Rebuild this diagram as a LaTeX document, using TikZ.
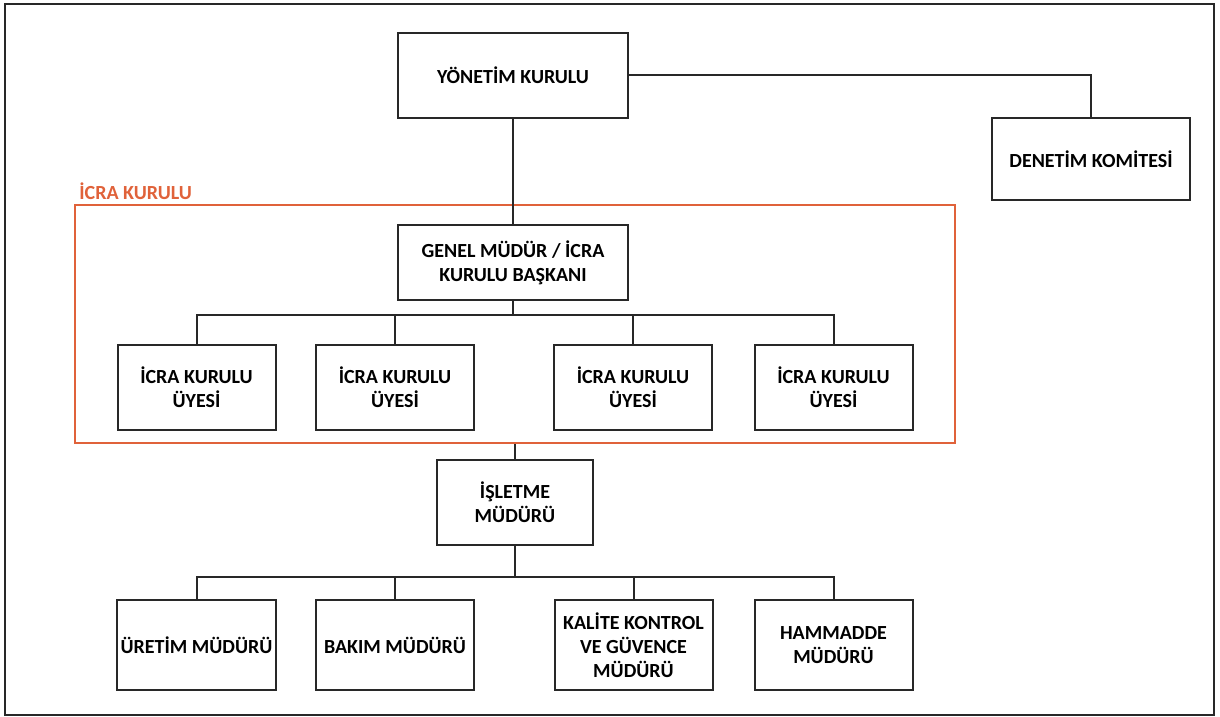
\documentclass[tikz,border=0pt]{standalone}
\usepackage{fontspec}
\setmainfont{Carlito}
\usepackage{xcolor}
\definecolor{icraorange}{RGB}{224,98,58}
\definecolor{linegray}{RGB}{40,40,40}

\tikzset{
    unitbox/.style={draw=linegray, line width=1pt, align=center,
        font=\fontsize{10}{12}\selectfont\bfseries, inner sep=2pt},
    memberbox/.style={unitbox, minimum width=79pt, minimum height=42.5pt},
    mgrbox/.style={unitbox, minimum width=79pt, minimum height=45pt},
    link/.style={draw=linegray, line width=1pt}
}

\begin{document}
\begin{tikzpicture}[x=0.5pt, y=-0.5pt]
    \useasboundingbox (0,0) rectangle (1220,717);
    \draw[linegray, line width=1.2pt] (5,4) rectangle (1214,715);

    % board and audit committee
    \node[unitbox, minimum width=115pt, minimum height=42.5pt] (yk) at (513,75.5) {YÖNETİM KURULU};
    \node[unitbox, minimum width=99pt, minimum height=41pt] (dk) at (1091,159) {DENETİM KOMİTESİ};

    % executive board frame
    \node[draw=icraorange, line width=1pt, minimum width=440pt, minimum height=119pt] (icra) at (515,324) {};
    \node[anchor=south west, text=icraorange, inner sep=1pt,
        font=\fontsize{10}{12}\selectfont\bfseries] (icralbl) at ([xshift=1.5pt,yshift=1pt]icra.north west) {İCRA KURULU};

    \node[unitbox, minimum width=115pt, minimum height=37.5pt] (gm) at (513,262.5) {GENEL MÜDÜR / İCRA\\KURULU BAŞKANI};
    \node[memberbox] (uye1) at (196.5,387.5) {İCRA KURULU\\ÜYESİ};
    \node[memberbox] (uye2) at (395,387.5) {İCRA KURULU\\ÜYESİ};
    \node[memberbox] (uye3) at (633,387.5) {İCRA KURULU\\ÜYESİ};
    \node[memberbox] (uye4) at (833.5,387.5) {İCRA KURULU\\ÜYESİ};

    % operations
    \node[unitbox, minimum width=78pt, minimum height=42.5pt] (isl) at (515,502.5) {İŞLETME\\MÜDÜRÜ};
    \node[mgrbox] (uretim) at (196.5,645) {ÜRETİM MÜDÜRÜ};
    \node[mgrbox] (bakim) at (395,645) {BAKIM MÜDÜRÜ};
    \node[mgrbox] (kalite) at (633.5,645) {KALİTE KONTROL\\VE GÜVENCE\\MÜDÜRÜ};
    \node[mgrbox] (hammadde) at (833.5,645) {HAMMADDE\\MÜDÜRÜ};

    \coordinate (busA) at (513,315);
    \coordinate (busB) at (515,577);

    \draw[link] (yk) -- (gm);
    \draw[link] (yk.east) -| (dk.north);
    \draw[link] (gm) -- (busA);
    \foreach \m in {uye1,uye2,uye3,uye4}
        \draw[link] (busA) -| (\m.north);
    \draw[link] (icra.south) -- (isl.north);
    \draw[link] (isl) -- (busB);
    \foreach \m in {uretim,bakim,kalite,hammadde}
        \draw[link] (busB) -| (\m.north);
\end{tikzpicture}
\end{document}
